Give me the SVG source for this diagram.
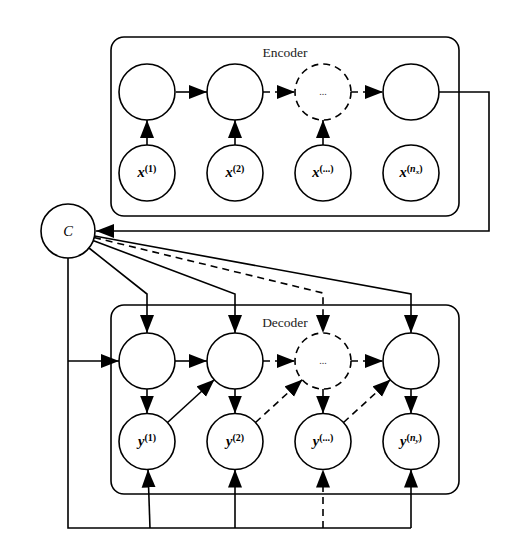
<svg xmlns="http://www.w3.org/2000/svg" width="522" height="540" viewBox="0 0 522 540">
<style>
.box{fill:none;stroke:#000;stroke-width:1.6}
.n{fill:#fff;stroke:#000;stroke-width:1.6}
.nd{fill:#fff;stroke:#000;stroke-width:1.6;stroke-dasharray:7,5}
.e{fill:none;stroke:#000;stroke-width:1.6}
.ed{fill:none;stroke:#000;stroke-width:1.6;stroke-dasharray:7,5}
.t{font-family:"Liberation Serif",serif;font-size:13.5px;fill:#222;text-anchor:middle}
.v{font-family:"Liberation Serif",serif;font-weight:bold;font-style:italic;font-size:14.5px;fill:#000;text-anchor:middle}
.s{font-size:10px;font-style:normal}
.ss{font-size:10px}
.sub{font-size:7px}
.dots{font-family:"Liberation Serif",serif;font-size:10px;fill:#333;text-anchor:middle}
</style>
<defs>
<marker id="a" markerUnits="userSpaceOnUse" markerWidth="19" markerHeight="16" refX="18" refY="7.5" orient="auto">
<path d="M0,0.5 L18,7.5 L0,14.5 z" fill="#000"/>
</marker>
</defs>
<g id="encoder-box"><rect class="box" x="111" y="37" width="348" height="179" rx="13"/><text class="t" x="285" y="57">Encoder</text></g>
<g id="decoder-box"><rect class="box" x="111" y="305" width="348" height="189" rx="13"/><text class="t" x="285" y="327">Decoder</text></g>
<g id="connectors">
<line class="e" x1="176" y1="92" x2="207" y2="92" marker-end="url(#a)"/>
<line class="ed" x1="263" y1="92" x2="295" y2="92" marker-end="url(#a)"/>
<line class="ed" x1="351" y1="92" x2="383" y2="92" marker-end="url(#a)"/>
<line class="e" x1="147" y1="145" x2="147" y2="120" marker-end="url(#a)"/>
<line class="e" x1="235" y1="145" x2="235" y2="120" marker-end="url(#a)"/>
<line class="e" x1="323" y1="145" x2="323" y2="120" marker-end="url(#a)"/>
<polyline class="e" points="439,92 489,92 489,231 96,231" marker-end="url(#a)"/>
<polyline class="e" points="89,248 147,294 147,333" marker-end="url(#a)"/>
<polyline class="e" points="93,240.5 235,294 235,333" marker-end="url(#a)"/>
<polyline class="ed" points="94,237.5 323,293 323,333" marker-end="url(#a)"/>
<polyline class="e" points="94.5,236 411,294 411,333" marker-end="url(#a)"/>
<polyline class="e" points="68,258 68,528 411,528"/>
<line class="e" x1="68" y1="361" x2="119" y2="361" marker-end="url(#a)"/>
<line class="e" x1="150" y1="528" x2="148" y2="469.5" marker-end="url(#a)"/>
<line class="e" x1="235" y1="528" x2="235" y2="469.5" marker-end="url(#a)"/>
<line class="ed" x1="323" y1="528" x2="323" y2="469.5" marker-end="url(#a)"/>
<line class="e" x1="411" y1="528" x2="411" y2="469.5" marker-end="url(#a)"/>
<line class="e" x1="175" y1="361" x2="207" y2="361" marker-end="url(#a)"/>
<line class="ed" x1="263" y1="361" x2="295" y2="361" marker-end="url(#a)"/>
<line class="ed" x1="351" y1="361" x2="383" y2="361" marker-end="url(#a)"/>
<line class="e" x1="147" y1="389" x2="147" y2="413.5" marker-end="url(#a)"/>
<line class="e" x1="235" y1="389" x2="235" y2="413.5" marker-end="url(#a)"/>
<line class="e" x1="323" y1="389" x2="323" y2="413.5" marker-end="url(#a)"/>
<line class="e" x1="411" y1="389" x2="411" y2="413.5" marker-end="url(#a)"/>
<line class="e" x1="167.5" y1="422.5" x2="214.5" y2="379.5" marker-end="url(#a)"/>
<line class="ed" x1="255.5" y1="422.5" x2="302.5" y2="379.5" marker-end="url(#a)"/>
<line class="ed" x1="343.5" y1="422.5" x2="390.5" y2="379.5" marker-end="url(#a)"/>
</g>
<g id="C"><circle class="n" cx="68" cy="231" r="27"/><text class="v" x="68" y="236" style="font-weight:normal">C</text></g>
<g id="h1"><circle class="n" cx="147" cy="92" r="28"/></g>
<g id="h2"><circle class="n" cx="235" cy="92" r="28"/></g>
<g id="h3"><circle class="nd" cx="323" cy="92" r="28"/><text class="dots" x="323" y="95">...</text></g>
<g id="h4"><circle class="n" cx="411" cy="92" r="28"/></g>
<g id="x1"><circle class="n" cx="147" cy="173" r="28"/><text class="v" x="147" y="177">x<tspan class="s" dy="-5">(1)</tspan></text></g>
<g id="x2"><circle class="n" cx="235" cy="173" r="28"/><text class="v" x="235" y="177">x<tspan class="s" dy="-5">(2)</tspan></text></g>
<g id="x3"><circle class="n" cx="323" cy="173" r="28"/><text class="v" x="323" y="177">x<tspan class="s" dy="-5">(...)</tspan></text></g>
<g id="x4"><circle class="n" cx="411" cy="173" r="28"/><text class="v" x="411" y="177">x<tspan class="s" dy="-5">(</tspan><tspan class="ss">n</tspan><tspan class="sub" dy="2">x</tspan><tspan class="s" dy="-2">)</tspan></text></g>
<g id="s1"><circle class="n" cx="147" cy="361" r="28"/></g>
<g id="s2"><circle class="n" cx="235" cy="361" r="28"/></g>
<g id="s3"><circle class="nd" cx="323" cy="361" r="28"/><text class="dots" x="323" y="364">...</text></g>
<g id="s4"><circle class="n" cx="411" cy="361" r="28"/></g>
<g id="y1"><circle class="n" cx="147" cy="441.5" r="28"/><text class="v" x="147" y="445.5">y<tspan class="s" dy="-5">(1)</tspan></text></g>
<g id="y2"><circle class="n" cx="235" cy="441.5" r="28"/><text class="v" x="235" y="445.5">y<tspan class="s" dy="-5">(2)</tspan></text></g>
<g id="y3"><circle class="n" cx="323" cy="441.5" r="28"/><text class="v" x="323" y="445.5">y<tspan class="s" dy="-5">(...)</tspan></text></g>
<g id="y4"><circle class="n" cx="411" cy="441.5" r="28"/><text class="v" x="411" y="445.5">y<tspan class="s" dy="-5">(</tspan><tspan class="ss">n</tspan><tspan class="sub" dy="2">y</tspan><tspan class="s" dy="-2">)</tspan></text></g>
</svg>
